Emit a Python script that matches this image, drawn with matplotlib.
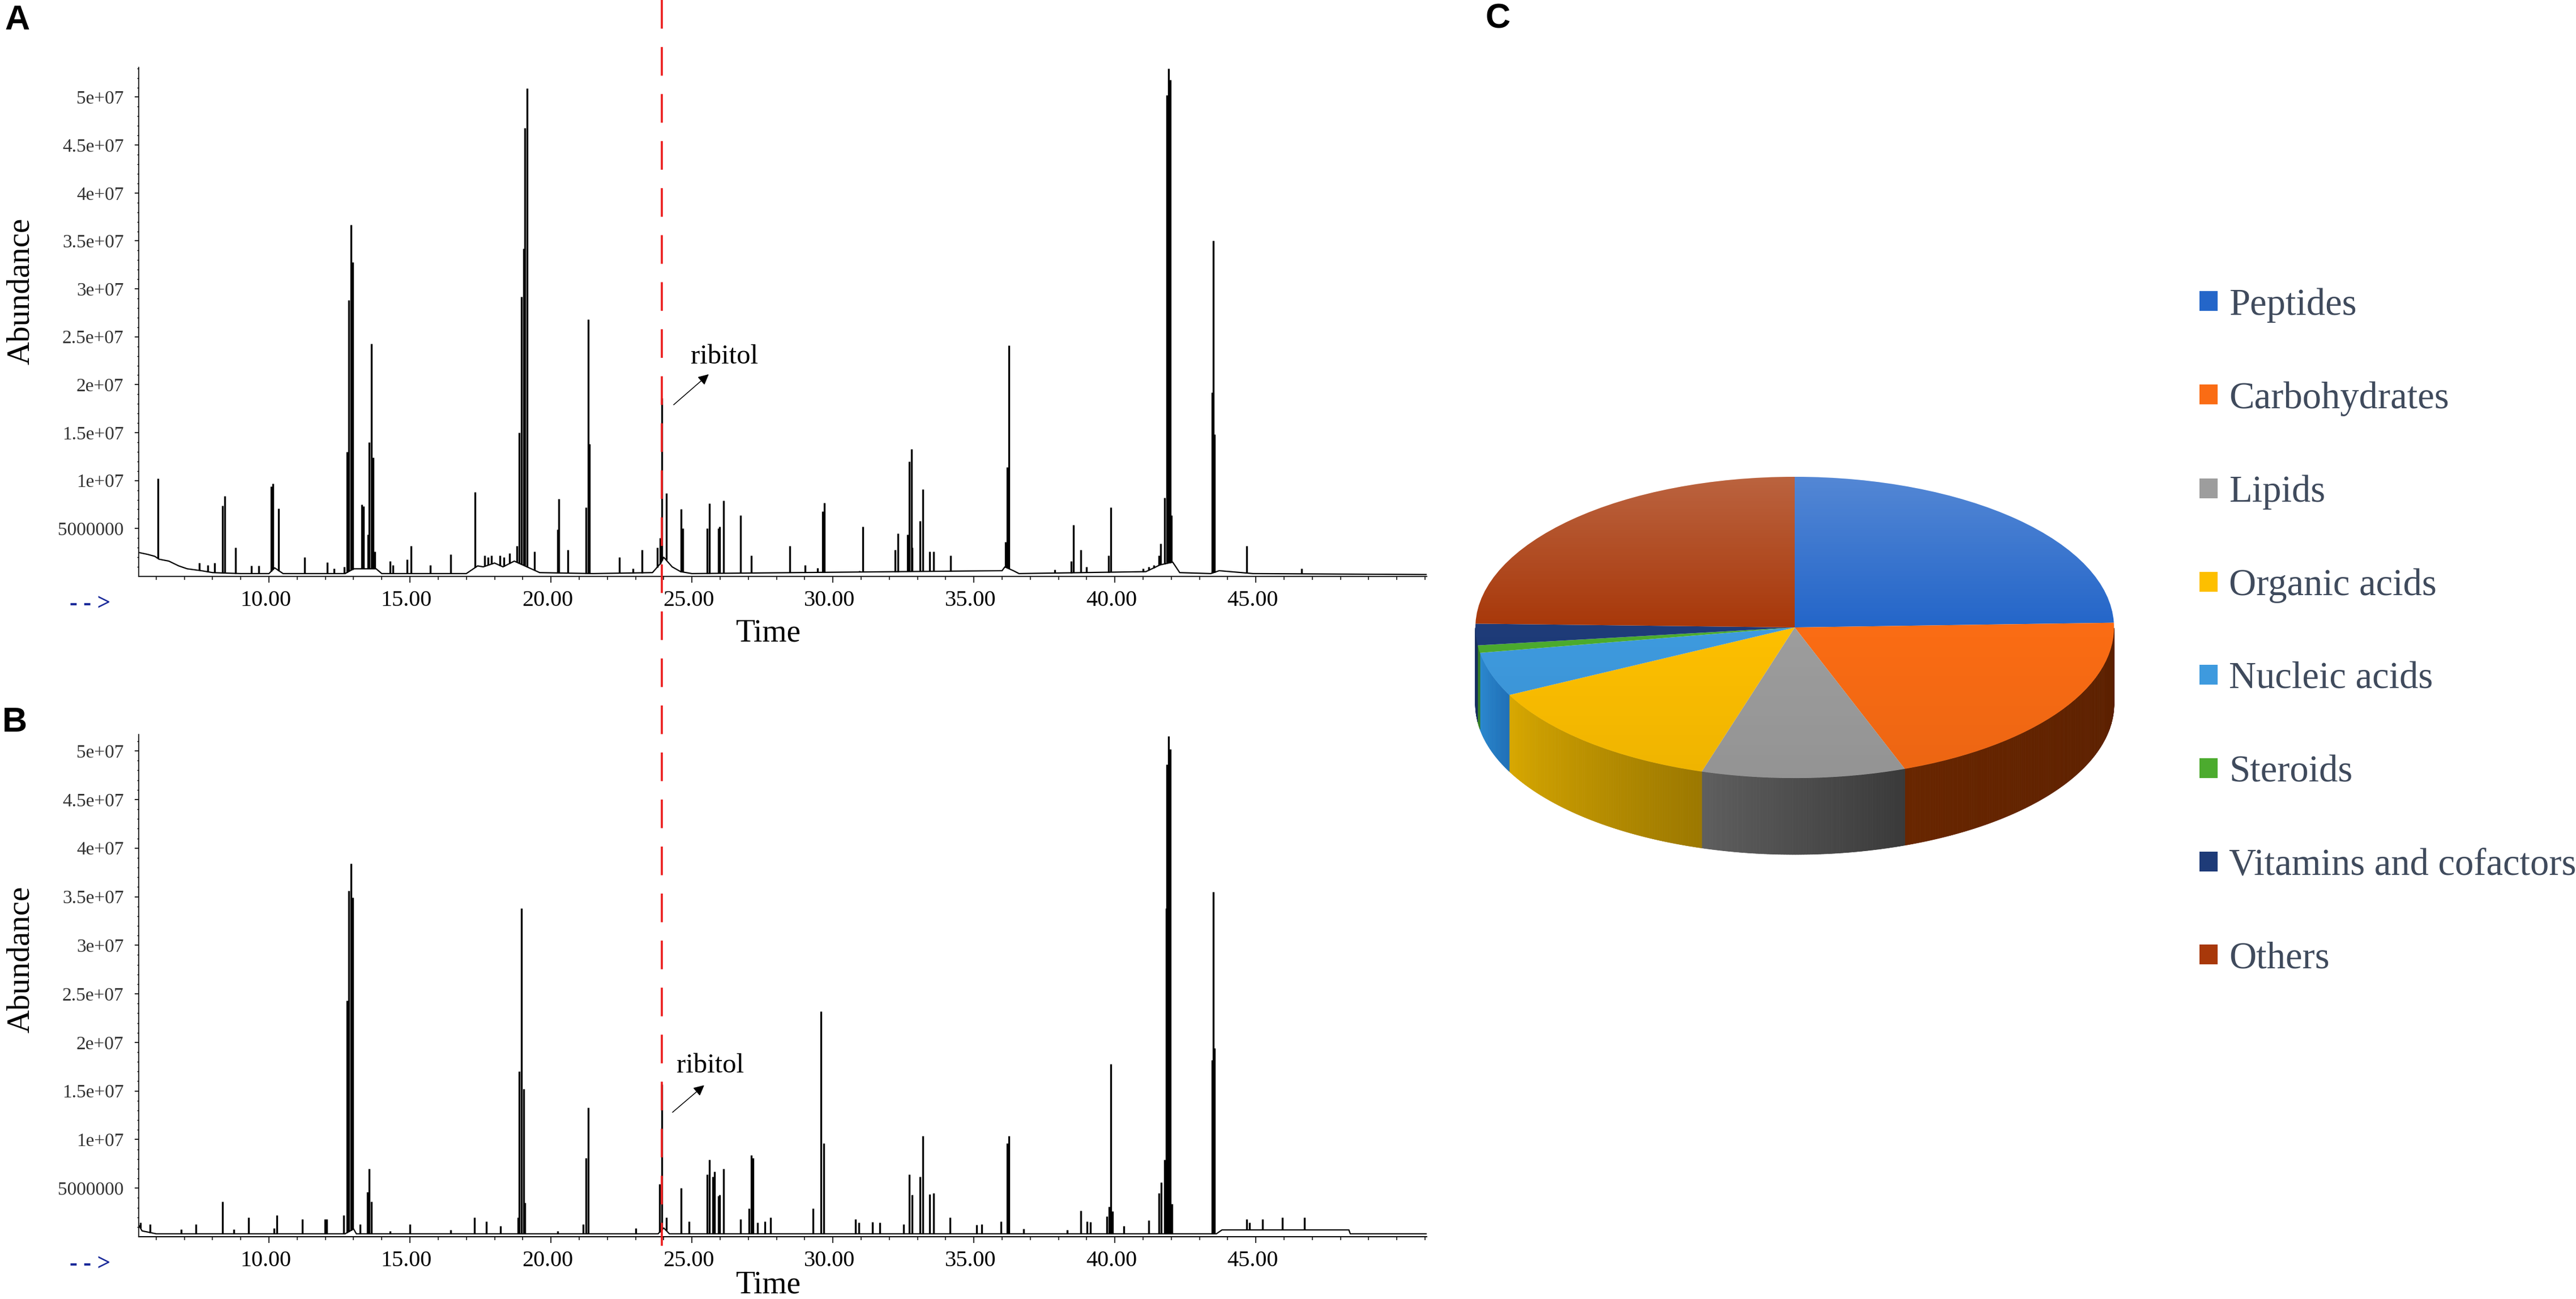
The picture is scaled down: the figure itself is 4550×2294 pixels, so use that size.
import matplotlib
matplotlib.use('Agg')
import matplotlib.pyplot as plt
import numpy as np
from matplotlib import transforms
from matplotlib.lines import Line2D
from matplotlib.patches import Polygon, Circle
from matplotlib.colors import to_rgb

plt.rcParams['font.family'] = ['Liberation Serif', 'DejaVu Serif']

# %% chromatogram A: peak apexes (retention time in min, abundance)
a_peak_t = [6.06, 7.53, 7.83, 8.08, 8.36, 8.43, 8.82, 9.37, 9.64, 10.07, 10.14, 10.34,
            11.27, 12.06, 12.31, 12.66, 12.76, 12.83, 12.91, 12.96, 13.29, 13.36, 13.51,
            13.56, 13.63, 13.69, 13.75, 14.30, 14.40, 14.90, 15.03, 15.73, 16.44, 17.31,
            17.64, 17.76, 17.89, 18.19, 18.34, 18.54, 18.80, 18.88, 18.95, 19.03, 19.08,
            19.15, 19.41, 20.23, 20.28, 20.61, 21.24, 21.32, 21.37, 22.43, 22.90, 23.23,
            23.77, 23.87, 23.94, 24.09, 24.61, 24.67, 25.54, 25.61, 25.94, 25.99, 26.12,
            26.73, 27.10, 28.48, 29.02, 29.45, 29.64, 29.69, 30.94, 31.07, 32.21, 32.31,
            32.64, 32.71, 32.78, 32.81, 33.09, 33.18, 33.44, 33.58, 34.17, 36.12, 36.19,
            36.24, 37.86, 38.46, 38.54, 38.80, 39.00, 39.78, 39.85, 41.00, 41.20, 41.39,
            41.57, 41.62, 41.76, 41.84, 41.91, 41.97, 42.01, 43.44, 43.49, 43.54, 44.68,
            46.62]
a_peak_h = [1.02e7, 1.4e6, 1.2e6, 1.4e6, 7.4e6, 8.4e6, 3.0e6, 1.1e6, 1.1e6, 9.4e6, 9.7e6, 7.1e6,
            2.0e6, 1.5e6, 0.8e6, 1.0e6, 1.3e7, 2.88e7, 3.67e7, 3.28e7, 7.5e6, 7.3e6, 4.4e6,
            1.4e7, 2.43e7, 1.24e7, 2.6e6, 1.6e6, 1.2e6, 1.8e6, 3.2e6, 1.2e6, 2.3e6, 8.8e6,
            2.2e6, 2.0e6, 2.2e6, 2.2e6, 2.0e6, 2.4e6, 3.2e6, 1.5e7, 2.92e7, 3.42e7, 4.68e7,
            5.09e7, 2.6e6, 4.9e6, 8.1e6, 2.8e6, 7.2e6, 2.68e7, 1.38e7, 2.0e6, 0.8e6, 2.8e6,
            3.0e6, 4.0e6, 1.86e7, 8.7e6, 7.0e6, 5.0e6, 5.0e6, 7.6e6, 5.0e6, 5.2e6, 7.9e6,
            6.4e6, 2.2e6, 3.2e6, 1.2e6, 0.9e6, 6.8e6, 7.7e6, 0.6e6, 5.2e6, 2.8e6, 4.5e6,
            4.4e6, 1.2e7, 1.33e7, 3.0e6, 5.8e6, 9.1e6, 2.6e6, 2.6e6, 2.2e6, 3.6e6, 1.14e7,
            2.41e7, 0.7e6, 1.6e6, 5.4e6, 2.8e6, 1.0e6, 2.2e6, 7.2e6, 0.8e6, 1.0e6, 1.2e6,
            2.2e6, 3.4e6, 8.2e6, 5.02e7, 5.3e7, 5.18e7, 6.4e6, 1.92e7, 3.5e7, 1.48e7, 3.2e6,
            0.8e6]
a_base_t = [5.38, 5.70, 5.95, 6.10, 6.45, 6.80, 7.10, 7.60, 8.00, 9.00, 10.00, 10.20, 10.50,
            12.70, 13.00, 13.80, 14.00, 17.00, 17.40, 17.60, 18.00, 18.30, 18.70, 19.30,
            19.60, 21.50, 23.60, 23.90, 24.00, 24.30, 24.60, 25.00, 36.00, 36.10, 36.40,
            36.60, 41.10, 41.60, 42.05, 42.30, 43.40, 43.70, 44.90, 51.06]
a_base_v = [2.5e6, 2.3e6, 2.1e6, 1.8e6, 1.6e6, 1.1e6, 0.8e6, 0.6e6, 0.4e6, 0.3e6, 0.3e6, 0.9e6,
            0.3e6, 0.3e6, 0.8e6, 0.8e6, 0.3e6, 0.3e6, 1.1e6, 1.0e6, 1.4e6, 1.0e6, 1.6e6, 0.8e6,
            0.4e6, 0.3e6, 0.4e6, 1.4e6, 2.0e6, 1.0e6, 0.5e6, 0.3e6, 0.6e6, 1.0e6, 0.6e6,
            0.3e6, 0.5e6, 1.2e6, 1.5e6, 0.4e6, 0.3e6, 0.6e6, 0.3e6, 0.2e6]

# %% chromatogram B
b_peak_t = [5.44, 5.79, 6.88, 7.40, 8.36, 8.75, 9.27, 10.17, 10.27, 11.19, 11.98, 12.04,
            12.64, 12.76, 12.83, 12.91, 12.96, 13.24, 13.49, 13.56, 13.64, 14.30, 15.00,
            16.44, 17.29, 17.71, 18.21, 18.83, 18.88, 18.95, 19.03, 19.08, 20.23, 21.14,
            21.25, 21.32, 23.00, 23.86, 23.94, 24.09, 24.61, 24.89, 25.54, 25.61, 25.74,
            25.81, 25.94, 25.99, 26.12, 26.73, 27.03, 27.10, 27.16, 27.33, 27.58, 27.78,
            29.29, 29.57, 29.68, 30.80, 30.92, 31.41, 31.66, 32.51, 32.71, 32.81, 33.09,
            33.18, 33.44, 33.58, 34.15, 35.10, 35.28, 35.97, 36.19, 36.24, 36.76, 38.31,
            38.80, 39.02, 39.13, 39.72, 39.80, 39.85, 39.92, 40.32, 41.20, 41.57, 41.64,
            41.77, 41.83, 41.85, 41.91, 41.97, 42.02, 43.44, 43.49, 43.54, 44.68, 44.78,
            45.23, 45.93, 46.73]
b_peak_h = [1.45e6, 1.3e6, 0.75e6, 1.3e6, 3.6e6, 0.75e6, 2.0e6, 0.9e6, 2.2e6, 1.8e6, 1.8e6, 1.8e6,
            2.2e6, 2.43e7, 3.56e7, 3.84e7, 3.49e7, 1.3e6, 4.6e6, 7.0e6, 3.6e6, 0.6e6, 1.3e6,
            0.7e6, 2.0e6, 1.6e6, 1.1e6, 2.0e6, 1.7e7, 3.38e7, 1.52e7, 3.5e6, 0.6e6, 1.3e6,
            8.1e6, 1.33e7, 0.9e6, 5.4e6, 1.57e7, 2.0e6, 5.0e6, 1.6e6, 6.4e6, 7.9e6, 6.2e6,
            6.7e6, 4.2e6, 4.3e6, 7.0e6, 1.8e6, 2.9e6, 8.4e6, 8.1e6, 1.45e6, 1.6e6, 2.0e6,
            2.9e6, 2.32e7, 9.6e6, 1.8e6, 1.45e6, 1.5e6, 1.45e6, 1.3e6, 6.4e6, 4.3e6, 6.2e6,
            1.04e7, 4.4e6, 4.5e6, 2.0e6, 1.2e6, 1.3e6, 1.6e6, 9.6e6, 1.04e7, 0.8e6, 0.7e6,
            2.7e6, 1.6e6, 1.5e6, 2.1e6, 3.1e6, 1.78e7, 2.6e6, 1.1e6, 1.7e6, 4.5e6, 5.6e6,
            7.9e6, 3.38e7, 4.86e7, 5.15e7, 5.02e7, 3.4e6, 1.82e7, 3.55e7, 1.94e7, 1.8e6, 1.45e6,
            1.8e6, 2.0e6, 2.0e6]
b_base_t = [5.38, 5.50, 6.00, 12.70, 13.00, 13.10, 23.80, 24.00, 24.20, 43.60, 43.80, 48.30,
            48.35, 51.06]
b_base_v = [1.2e6, 0.6e6, 0.3e6, 0.3e6, 0.8e6, 0.3e6, 0.3e6, 0.9e6, 0.3e6, 0.3e6, 0.7e6, 0.7e6,
            0.3e6, 0.3e6]

ribitol_t = 23.94

y_ticks = [5e6, 1e7, 1.5e7, 2e7, 2.5e7, 3e7, 3.5e7, 4e7, 4.5e7, 5e7]
y_tick_labels = ['5000000', '1e+07', '1.5e+07', '2e+07', '2.5e+07', '3e+07',
                 '3.5e+07', '4e+07', '4.5e+07', '5e+07']
x_ticks = [10, 15, 20, 25, 30, 35, 40, 45]

# %% pie C
pie_labels = ['Peptides', 'Carbohydrates', 'Lipids', 'Organic acids', 'Nucleic acids',
              'Steroids', 'Vitamins and cofactors', 'Others']
pie_share = [24.5, 19.9, 10.3, 12.9, 4.7, 0.8, 2.3, 24.6]
top_colors = ['#2466c9', '#fa6c14', '#9d9d9d', '#fdbf00', '#3e9ade', '#4cab2e', '#1e3b78', '#a8380a']
wall_colors = [('#1c4fa0', '#163f80'), ('#682600', '#5a1f00'), ('#5e5e5e', '#3a3a3a'),
               ('#d8a800', '#9c7800'), ('#2b8ad0', '#1f70b8'), ('#3c8c28', '#357c22'),
               ('#1a3468', '#162c5c'), ('#7a2a06', '#6a2404')]

W, H = 4550, 2294
fig = plt.figure(figsize=(W / 100, H / 100), dpi=100)


def chrom(rect, pt, ph, bt, bv, ytop, ylab_y, xlab_y, arrow_y, arrow_tail, arrow_head, txt_pos):
    ax = fig.add_axes(rect)
    ax.plot(bt, bv, color='black', lw=1.6)
    base = np.interp(pt, bt, bv)
    ax.vlines(pt, base, ph, color='black', lw=2.4)
    ax.set_xlim(5.38, 51.06)
    ax.set_ylim(0, ytop)
    for s in ['top', 'right']:
        ax.spines[s].set_visible(False)
    ax.spines['left'].set_linewidth(1.2)
    ax.spines['bottom'].set_linewidth(1.4)
    ax.set_xticks(x_ticks, ['%.2f' % v for v in x_ticks])
    ax.set_xticks(np.arange(6, 52, 1), minor=True)
    ax.set_yticks(y_ticks, y_tick_labels)
    ax.set_yticks(np.arange(1e6, ytop, 1e6), minor=True)
    ax.tick_params(axis='x', which='major', length=8, width=1.2, pad=9, labelsize=29)
    ax.tick_params(axis='x', which='minor', length=4, width=1.1)
    ax.tick_params(axis='y', which='major', length=5, width=1.2, pad=14, labelsize=24,
                   labelcolor='#333333')
    ax.tick_params(axis='y', which='minor', length=2.5, width=1.0)
    off = transforms.ScaledTranslation(-6 / 100, 0, fig.dpi_scale_trans)
    for lab in ax.get_xticklabels():
        lab.set_transform(lab.get_transform() + off)
    ax.text(-0.0915, ylab_y, 'Abundance', transform=ax.transAxes, rotation=90,
            fontsize=41, ha='center', va='center')
    ax.text(0.489, xlab_y, 'Time', transform=ax.transAxes, fontsize=40,
            ha='center', va='center')
    ax.text(-0.0535, arrow_y, '- - >', transform=ax.transAxes, color='#1a2a9a',
            fontsize=30, fontweight='bold', ha='left', va='center')
    ax.annotate('', xy=arrow_head, xytext=arrow_tail,
                arrowprops=dict(arrowstyle='-|>', color='black', lw=1.1, mutation_scale=28))
    ax.text(txt_pos[0], txt_pos[1], 'ribitol', fontsize=35, ha='left', va='center')
    return ax


axA = chrom([245 / W, 1 - 1018 / H, 2275 / W, 899 / H], a_peak_t, a_peak_h, a_base_t, a_base_v,
            5.31e7, 0.56, -0.1123, -0.0545, (24.31, 1.78e7), (25.64, 2.12e7), (24.95, 2.29e7))
axB = chrom([245 / W, 1 - 2184 / H, 2275 / W, 887 / H], b_peak_t, b_peak_h, b_base_t, b_base_v,
            5.17e7, 0.552, -0.0965, -0.0552, (24.27, 1.27e7), (25.48, 1.57e7), (24.45, 1.76e7))

# red dashed line through both chromatograms at the ribitol peak
trans = transforms.blended_transform_factory(axA.transData, fig.transFigure)
fig.add_artist(Line2D([ribitol_t, ribitol_t], [1.0, 1 - 2200 / H], transform=trans,
                      color='#ec1c1c', lw=2.6, dashes=(14, 9)))

# %% pseudo 3D pie
axP = fig.add_axes([2560 / W, 1 - 1560 / H, 1220 / W, 760 / H])
wedges, _ = axP.pie(pie_share, colors=top_colors, startangle=90, counterclock=False,
                    radius=1, wedgeprops=dict(linewidth=0, zorder=3))
depth = 0.5075
for w, (c_light, c_dark) in zip(wedges, wall_colors):
    lo, hi = w.theta1, w.theta2
    n = max(2, int((hi - lo) / 0.5))
    ang = np.linspace(lo, hi, n + 1)
    segs = []
    for a1, a2 in zip(ang[:-1], ang[1:]):
        am = ((a1 + a2) / 2) % 360
        if 180 < am < 360:
            segs.append((am, a1, a2))
    segs.sort()
    cl, cd = np.array(to_rgb(c_light)), np.array(to_rgb(c_dark))
    for i, (am, a1, a2) in enumerate(segs):
        s = i / max(1, len(segs) - 1)
        col = cl * (1 - s) + cd * s
        r1, r2 = np.radians(a1), np.radians(a2)
        pts = [(np.cos(r1), np.sin(r1)), (np.cos(r2), np.sin(r2)),
               (np.cos(r2), np.sin(r2) - depth), (np.cos(r1), np.sin(r1) - depth)]
        axP.add_patch(Polygon(pts, closed=True, facecolor=col, edgecolor=col, lw=0.6, zorder=2))

# soft light from the top of the pie
grad = np.zeros((256, 1, 4))
yy = np.linspace(0, 1, 256)
grad[:, 0, :3] = np.where(yy[:, None] < 0.5, 1.0, 0.0)
grad[:, 0, 3] = np.where(yy < 0.5, 0.22 * (1 - yy / 0.5), 0.06 * (yy - 0.5) / 0.5)
im = axP.imshow(grad, extent=(-1, 1, -1, 1), aspect='auto', zorder=4, interpolation='bilinear')
im.set_clip_path(Circle((0, 0), 1, transform=axP.transData))
axP.set_aspect('auto')
axP.set_xlim(-1.0816, 1.0816)
axP.set_ylim(-1.699, 1.158)
axP.axis('off')

fig.legend(wedges, pie_labels, loc='upper left', bbox_to_anchor=(3885 / W, 1 - 508 / H),
           frameon=False, fontsize=48, handlelength=0.48, handleheight=0.43, handletextpad=0.3,
           labelspacing=1.555, borderaxespad=0, borderpad=0, labelcolor='#3f4a5c')

# panel letters
for letter, x, y in [('A', 31, 37), ('B', 26, 1277), ('C', 2646, 34)]:
    fig.text(x / W, 1 - y / H, letter, fontsize=44, fontweight='bold',
             family=['Liberation Sans', 'DejaVu Sans'], ha='center', va='center')

fig.savefig('out.png', dpi=100)
